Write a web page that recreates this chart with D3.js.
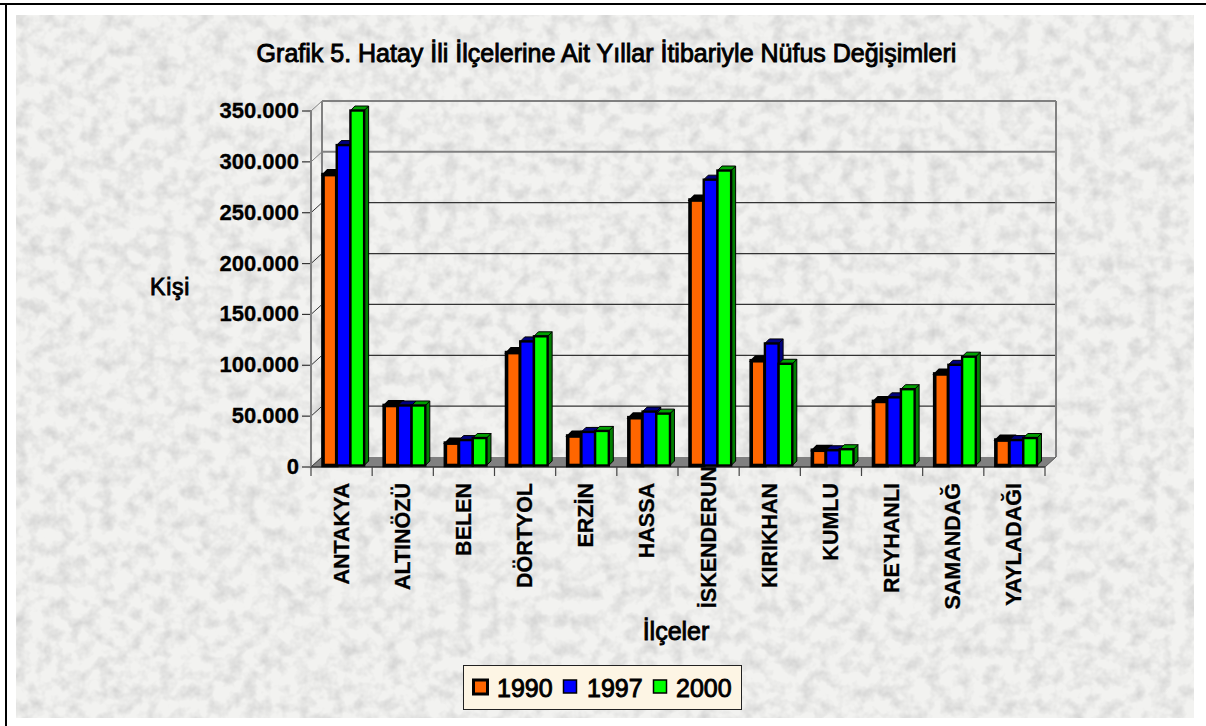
<!DOCTYPE html>
<html><head><meta charset="utf-8">
<script src="https://cdn.jsdelivr.net/npm/d3@7"></script>
<style>html,body{margin:0;background:#fff;overflow:hidden}svg{display:block}text{font-family:"Liberation Sans",Arial,sans-serif;fill:#000}</style>
</head><body><svg id="c" width="1206" height="726"></svg>
<script>
const categories=["ANTAKYA","ALTINÖZÜ","BELEN","DÖRTYOL","ERZİN","HASSA","İSKENDERUN","KIRIKHAN","KUMLU","REYHANLI","SAMANDAĞ","YAYLADAĞI"];
const years=["1990","1997","2000"];
const values1990=[286000,59000,22000,111000,29000,47000,261000,103000,15000,63000,90000,25000];
const values1997=[315000,59000,25000,122000,33000,53000,281000,120000,15000,67000,99000,25000];
const values2000=[349000,59000,27000,127000,34000,51000,290000,100000,16000,75000,107000,27000];
const yTicks=[0,50000,100000,150000,200000,250000,300000,350000];
const yTickLabels=["0","50.000","100.000","150.000","200.000","250.000","300.000","350.000"];
const titleText="Grafik 5.  Hatay İli İlçelerine Ait Yıllar İtibariyle Nüfus Değişimleri";
const xTitle="İlçeler", yTitle="Kişi";
const fronts=["#ff6600","#0000ff","#00ff00"];
const sides=["#000000","#000080","#008000"];
const tops=["#000000","#000080","#00a000"];

const svg=d3.select("#c");
const defs=svg.append("defs");
const f=defs.append("filter").attr("id","tex").attr("x",0).attr("y",0).attr("width","100%").attr("height","100%");
f.append("feTurbulence").attr("type","fractalNoise").attr("baseFrequency",0.07).attr("numOctaves",3).attr("seed",11);
f.append("feColorMatrix").attr("type","matrix").attr("values","0 0 0 0 0.55  0 0 0 0 0.55  0 0 0 0 0.55  1.3 0 0 0 -0.52");
f.append("feGaussianBlur").attr("stdDeviation",0.7);
svg.append("line").attr("x1",0).attr("x2",1206).attr("y1",4).attr("y2",4).attr("stroke","#000").attr("stroke-width",2);
svg.append("line").attr("x1",6).attr("x2",6).attr("y1",3).attr("y2",726).attr("stroke","#000").attr("stroke-width",2);
svg.append("rect").attr("x",16).attr("y",15).attr("width",1178).attr("height",703).attr("fill","#f2f2f0");
svg.append("rect").attr("x",16).attr("y",15).attr("width",1178).attr("height",703).attr("filter","url(#tex)");

const x=d3.scaleBand().domain(categories).range([311,1045]);
const y=d3.scaleLinear().domain([0,350000]).range([467,111]);
const dx=11,dy=-10;
const g=svg.append("g");
g.append("polygon").attr("fill","#808080").attr("points",[[311,y(0)],[311+dx,y(0)+dy],[1045+dx,y(0)+dy],[1045,y(0)]].join(" "));
yTicks.forEach((t,i)=>{
 g.append("line").attr("x1",311).attr("x2",311+dx).attr("y1",y(t)).attr("y2",y(t)+dy).attr("stroke",i>=6?"#808080":"#333").attr("stroke-width",1);
 if(i>0)g.append("line").attr("x1",311+dx).attr("x2",1045+dx).attr("y1",y(t)+dy).attr("y2",y(t)+dy).attr("stroke",i>=6?"#808080":"#333").attr("stroke-width",i>=6?2:1.2);
 g.append("line").attr("x1",302).attr("x2",311).attr("y1",y(t)).attr("y2",y(t)).attr("stroke","#333").attr("stroke-width",1.2);
 g.append("text").attr("x",299).attr("y",y(t)+7).attr("text-anchor","end").attr("font-size",22).attr("font-weight","bold").attr("stroke","#000").attr("stroke-width",.3).text(yTickLabels[i]);
});
[[311+dx,y(0)+dy,311+dx,y(350000)+dy],[1045+dx,y(0)+dy,1045+dx,y(350000)+dy],[311,y(0),311,y(350000)]].forEach(l=>
 g.append("line").attr("x1",l[0]).attr("y1",l[1]).attr("x2",l[2]).attr("y2",l[3]).attr("stroke","#808080").attr("stroke-width",2));
g.append("line").attr("x1",1045).attr("y1",y(0)).attr("x2",1045+dx).attr("y2",y(0)+dy).attr("stroke","#555");
g.append("line").attr("x1",311).attr("y1",y(0)).attr("x2",1045).attr("y2",y(0)).attr("stroke","#333").attr("stroke-width",1.5);
d3.range(13).forEach(i=>{const px=311+i*x.bandwidth();
 g.append("line").attr("x1",px).attr("x2",px).attr("y1",467).attr("y2",476).attr("stroke","#444").attr("stroke-width",1.2);});

const series=[values1990,values1997,values2000];
const bw=13.7, bd=4.5, base=465.5;
categories.forEach((c,ci)=>{
 const x0=x(c)+x.bandwidth()/2-bw*1.5+2;
 [0,1,2].forEach(s=>{
  const v=series[s][ci], xl=x0+s*bw, xr=xl+bw, yt=y(v)-1.5;
  const bar=g.append("g");
  bar.append("polygon").attr("points",[[xr,base],[xr+bd,base-bd],[xr+bd,yt-bd],[xr,yt]].join(" ")).attr("fill",sides[s]).attr("stroke","#000").attr("stroke-width",1);
  bar.append("polygon").attr("points",[[xl,yt],[xl+bd,yt-bd],[xr+bd,yt-bd],[xr,yt]].join(" ")).attr("fill",tops[s]).attr("stroke","#000").attr("stroke-width",s==0?2:1);
  bar.append("rect").attr("x",xl).attr("y",yt).attr("width",bw).attr("height",base-yt).attr("fill",fronts[s]).attr("stroke","#000").attr("stroke-width",s==0?3.6:2.4);
 });
});
categories.forEach(c=>{
 const cx=x(c)+x.bandwidth()/2;
 svg.append("text").attr("transform",`translate(${cx+7},${c==="İSKENDERUN"?466:483}) rotate(-90)`).attr("text-anchor","end").attr("font-size",21.5).attr("font-weight","bold").attr("stroke","#000").attr("stroke-width",.3).text(c);
});
svg.append("text").attr("x",606.5).attr("y",62).attr("text-anchor","middle").attr("font-size",25).attr("stroke","#000").attr("stroke-width",.9).text(titleText);
svg.append("text").attr("x",150).attr("y",295).attr("font-size",23).attr("stroke","#000").attr("stroke-width",.9).attr("letter-spacing",0.8).text(yTitle);
svg.append("text").attr("x",676).attr("y",640).attr("text-anchor","middle").attr("font-size",25).attr("stroke","#000").attr("stroke-width",.9).text(xTitle);

const lg=svg.append("g");
lg.append("rect").attr("x",463.5).attr("y",665.5).attr("width",278).attr("height",44).attr("fill","#fdf5e4").attr("stroke","#222");
const lx=[473.5,563.5,653.5],tx=[497,587,676];
years.forEach((yr,i)=>{
 lg.append("rect").attr("x",lx[i]).attr("y",680).attr("width",i==0?14:13).attr("height",i==0?14:13).attr("fill",fronts[i]).attr("stroke","#000").attr("stroke-width",i==0?3:1.5);
 lg.append("text").attr("x",tx[i]).attr("y",697).attr("font-size",25).attr("stroke","#000").attr("stroke-width",.9).text(yr);
});
</script></body></html>
